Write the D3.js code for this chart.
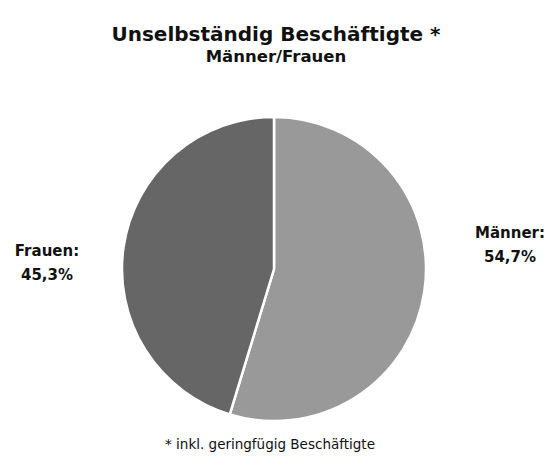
<!DOCTYPE html>
<html>
<head>
<meta charset="utf-8">
<script src="https://cdn.jsdelivr.net/npm/d3@7"></script>
<style>
  body { margin: 0; background: #fff; }
  text { font-family: "DejaVu Sans", Verdana, sans-serif; fill: #111; }
</style>
</head>
<body>
<script>
const width = 548;
const height = 459;

// data
const categories = ['Männer', 'Frauen'];
const shares = [54.7, 45.3];
const colors = ['#999999', '#666666'];

const svg = d3.select('body').append('svg')
    .attr('width', width)
    .attr('height', height);

// titles
svg.append('text')
    .attr('x', 276).attr('y', 41)
    .attr('text-anchor', 'middle')
    .style('font-size', '20px').style('font-weight', 'bold')
    .text('Unselbständig Beschäftigte *');
svg.append('text')
    .attr('x', 276).attr('y', 62)
    .attr('text-anchor', 'middle')
    .style('font-size', '16.5px').style('font-weight', 'bold')
    .text('Männer/Frauen');

const cx = 274, cy = 269, radius = 152;
const root = svg.append('g').attr('transform', `translate(${cx},${cy})`);

const pie = d3.pie().sort(null).value((d) => d);
const arc = d3.arc().innerRadius(0).outerRadius(radius);
const arcs = pie(shares);

root.selectAll('path').data(arcs).enter().append('path')
    .attr('d', arc)
    .attr('fill', (d, i) => colors[i])
    .attr('stroke', '#fff')
    .attr('stroke-width', 2.5);

// labels outside
const labelPos = [[510, 238], [47, 256]];
arcs.forEach((d, i) => {
    const t = svg.append('text')
        .attr('x', labelPos[i][0]).attr('y', labelPos[i][1])
        .attr('text-anchor', 'middle')
        .style('font-size', '15px').style('font-weight', 'bold');
    t.append('tspan').attr('x', labelPos[i][0]).text(categories[i] + ':');
    t.append('tspan').attr('x', labelPos[i][0]).attr('dy', 24)
        .text(shares[i].toFixed(1).replace('.', ',') + '%');
});

svg.append('text')
    .attr('x', 270).attr('y', 449)
    .attr('text-anchor', 'middle')
    .style('font-size', '13.5px')
    .text('* inkl. geringfügig Beschäftigte');
</script>
</body>
</html>
